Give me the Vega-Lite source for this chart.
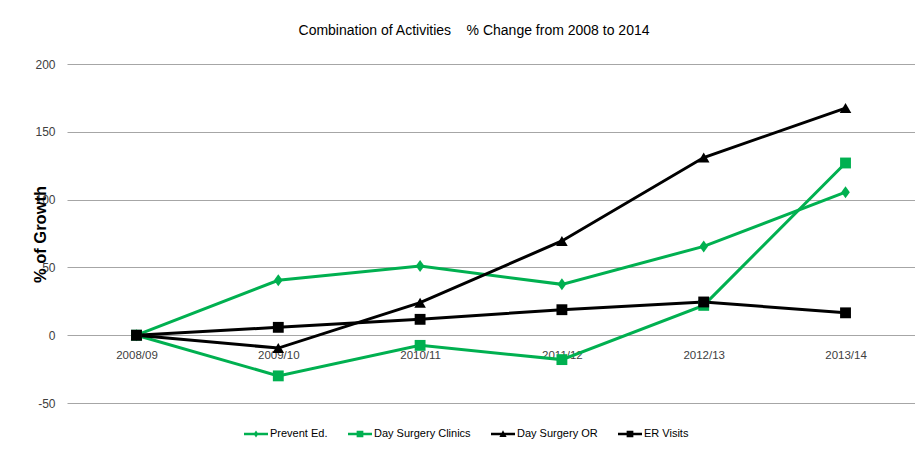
{
  "$schema": "https://vega.github.io/schema/vega-lite/v6.json",
  "width": 848,
  "height": 339,
  "autosize": "none",
  "padding": {"left": 67, "top": 64, "right": 0, "bottom": 56},
  "background": "white",
  "title": {
    "text": "Combination of Activities\u00a0\u00a0\u00a0\u00a0% Change from 2008 to 2014",
    "font": "Liberation Sans, Arial, sans-serif",
    "fontSize": 14,
    "fontWeight": "normal",
    "color": "#000000",
    "anchor": "middle",
    "dx": -17,
    "offset": 20
  },
  "config": {
    "view": {"stroke": null},
    "font": "Liberation Sans, Arial, sans-serif"
  },
  "data": {
    "values": [
      {"year": "2008/09", "series": "Prevent Ed.", "value": 0},
      {"year": "2009/10", "series": "Prevent Ed.", "value": 40.5},
      {"year": "2010/11", "series": "Prevent Ed.", "value": 51},
      {"year": "2011/12", "series": "Prevent Ed.", "value": 37.5},
      {"year": "2012/13", "series": "Prevent Ed.", "value": 65.5},
      {"year": "2013/14", "series": "Prevent Ed.", "value": 105.5},
      {"year": "2008/09", "series": "Day Surgery Clinics", "value": 0},
      {"year": "2009/10", "series": "Day Surgery Clinics", "value": -30},
      {"year": "2010/11", "series": "Day Surgery Clinics", "value": -7.5},
      {"year": "2011/12", "series": "Day Surgery Clinics", "value": -18},
      {"year": "2012/13", "series": "Day Surgery Clinics", "value": 22},
      {"year": "2013/14", "series": "Day Surgery Clinics", "value": 127},
      {"year": "2008/09", "series": "Day Surgery OR", "value": 0},
      {"year": "2009/10", "series": "Day Surgery OR", "value": -9.5},
      {"year": "2010/11", "series": "Day Surgery OR", "value": 24},
      {"year": "2011/12", "series": "Day Surgery OR", "value": 69.5},
      {"year": "2012/13", "series": "Day Surgery OR", "value": 131},
      {"year": "2013/14", "series": "Day Surgery OR", "value": 167.5},
      {"year": "2008/09", "series": "ER Visits", "value": 0},
      {"year": "2009/10", "series": "ER Visits", "value": 5.8},
      {"year": "2010/11", "series": "ER Visits", "value": 11.7},
      {"year": "2011/12", "series": "ER Visits", "value": 18.8},
      {"year": "2012/13", "series": "ER Visits", "value": 24.5},
      {"year": "2013/14", "series": "ER Visits", "value": 16.5}
    ]
  },
  "encoding": {
    "x": {
      "field": "year",
      "type": "ordinal",
      "sort": null,
      "scale": {"type": "point", "padding": 0.49},
      "axis": {
        "title": null,
        "labelAngle": 0,
        "domain": false,
        "ticks": false,
        "offset": -68,
        "labelPadding": 14,
        "labelFontSize": 11.5,
        "labelColor": "#404040"
      }
    },
    "y": {
      "field": "value",
      "type": "quantitative",
      "scale": {"domain": [-50, 200], "nice": false, "zero": false},
      "axis": {
        "values": [-50, 0, 50, 100, 150, 200],
        "labelExpr": "replace(datum.label, '\u2212', '-')",
        "title": "% of Growth",
        "titleFont": "Liberation Sans, Arial, sans-serif",
        "titleFontSize": 16.5,
        "titleFontWeight": "bold",
        "titleColor": "#000000",
        "titleAngle": -90,
        "titleAlign": "center",
        "titleBaseline": "middle",
        "titleX": -27,
        "titleY": 170,
        "domain": false,
        "ticks": false,
        "labelPadding": 12,
        "labelFontSize": 12,
        "labelColor": "#404040",
        "gridColor": "#a6a6a6",
        "gridWidth": 1
      }
    },
    "color": {
      "field": "series",
      "type": "nominal",
      "scale": {
        "domain": ["Prevent Ed.", "Day Surgery Clinics", "Day Surgery OR", "ER Visits"],
        "range": ["#00b050", "#00b050", "#000000", "#000000"]
      },
      "legend": {
        "title": null,
        "orient": "none",
        "direction": "horizontal",
        "legendX": 177,
        "legendY": 358,
        "padding": 0,
        "columnPadding": 20,
        "labelOffset": 2,
        "labelFontSize": 11,
        "labelColor": "#000000",
        "symbolSize": 576,
        "symbolStrokeWidth": 0,
        "encode": {
          "symbols": {
            "update": {
              "shape": {"signal": "datum.value === 'Prevent Ed.' ? 'M-1,-0.11H1V0.11H-1Z M0,-0.3L0.2,0L0,0.3L-0.2,0Z' : datum.value === 'Day Surgery Clinics' ? 'M-1,-0.11H1V0.11H-1Z M-0.28,-0.28H0.28V0.28H-0.28Z' : datum.value === 'Day Surgery OR' ? 'M-1,-0.11H1V0.11H-1Z M0,-0.32L0.3,0.26H-0.3Z' : 'M-1,-0.11H1V0.11H-1Z M-0.28,-0.28H0.28V0.28H-0.28Z'"},
              "fill": {"signal": "scale('color', datum.value)"},
              "strokeWidth": {"value": 0},
              "opacity": {"value": 1}
            }
          }
        }
      }
    }
  },
  "layer": [
    {
      "mark": {"type": "line", "strokeWidth": 3},
      "encoding": {"detail": {"field": "series"}}
    },
    {
      "transform": [{"filter": "datum.series === 'Prevent Ed.'"}],
      "mark": {"type": "point", "filled": true, "opacity": 1, "size": 144, "shape": "M0,-1L0.72,0L0,1L-0.72,0Z"},
      "encoding": {"color": {"field": "series", "type": "nominal", "legend": null}}
    },
    {
      "transform": [{"filter": "datum.series === 'Day Surgery Clinics' || datum.series === 'ER Visits'"}],
      "mark": {"type": "point", "filled": true, "opacity": 1, "size": 118, "shape": "square"},
      "encoding": {"color": {"field": "series", "type": "nominal", "legend": null}}
    },
    {
      "transform": [{"filter": "datum.series === 'Day Surgery OR'"}],
      "mark": {"type": "point", "filled": true, "opacity": 1, "size": 135, "shape": "triangle-up"},
      "encoding": {"color": {"field": "series", "type": "nominal", "legend": null}}
    }
  ]
}
